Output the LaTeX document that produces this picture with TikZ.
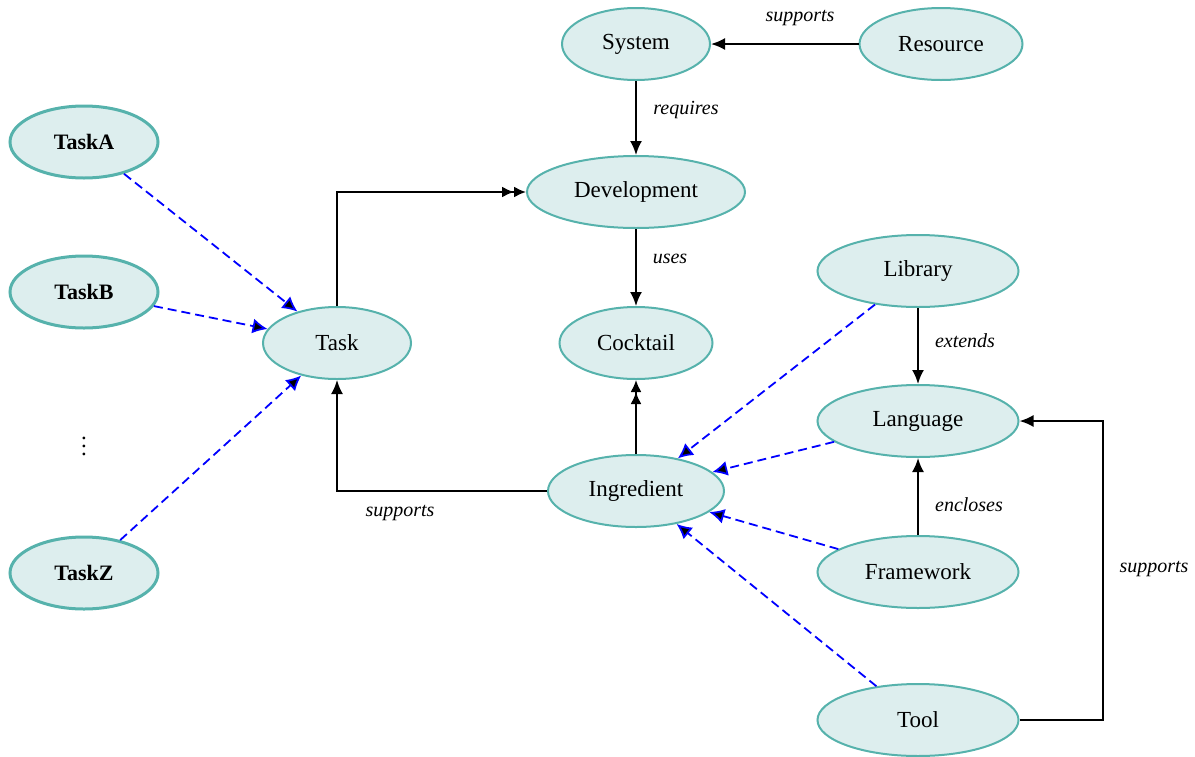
\documentclass[tikz,border=0pt]{standalone}
\usepackage{fontspec}
\setmainfont{Liberation Serif}
\usetikzlibrary{arrows.meta,shapes.geometric}
\definecolor{nodefill}{RGB}{221,238,238}
\definecolor{nodeline}{RGB}{86,178,172}
\tikzset{
  ent/.style={ellipse,draw=nodeline,fill=nodefill,line width=1pt,inner sep=0pt,
    minimum width=74pt,minimum height=36pt,font=\fontsize{11.5}{14}\selectfont},
  wide/.style={minimum width=100.5pt},
  taskbox/.style={ent,line width=1.5pt,font=\fontsize{11}{13}\selectfont\bfseries},
  rel/.style={draw=black,line width=1pt,-{Latex[length=7pt,width=6pt]}},
  relx/.style={draw=black,line width=1pt,-{Latex[length=6pt,width=5.5pt]Latex[length=6pt,width=5.5pt]}},
  dep/.style={draw=blue,line width=0.9pt,dash pattern=on 4.5pt off 2.5pt,-{Latex[length=7.5pt,width=7.5pt,fill=black]}},
  lbl/.style={font=\fontsize{10}{12}\selectfont\itshape}
}
\begin{document}
\begin{tikzpicture}[x=0.5pt,y=-0.5pt]
\useasboundingbox (0,0) rectangle (1195,756);
\node[ent] (sys) at (636,44) {System};
\node[ent,minimum width=81.5pt] (res) at (941,44) {Resource};
\node[ent,minimum width=109pt] (dev) at (636,192) {Development};
\node[ent,minimum width=76.5pt] (coc) at (636,343) {Cocktail};
\node[ent] (task) at (337,343) {Task};
\node[ent,minimum width=88pt] (ing) at (636,491) {Ingredient};
\node[ent,wide] (lib) at (918,271) {Library};
\node[ent,wide] (lang) at (918,421) {Language};
\node[ent,wide] (fw) at (918,572) {Framework};
\node[ent,wide] (tool) at (918,720) {Tool};
\node[taskbox] (ta) at (84,142) {TaskA};
\node[taskbox] (tb) at (84,292) {TaskB};
\node[taskbox] (tz) at (84,573) {TaskZ};
\node[font=\fontsize{11.5}{14}\selectfont] (dots) at (84,440) {$\vdots$};
\coordinate (xr) at (1103,0);

\draw[rel] (res) -- (sys);
\node[lbl] (l1) at (800,18) {supports};
\draw[rel] (sys) -- (dev);
\node[lbl] (l2) at (686,110) {requires};
\draw[rel] (dev) -- (coc);
\node[lbl] (l3) at (670,259) {uses};
\draw[rel] (lib) -- (lang);
\node[lbl] (l4) at (965,341) {extends};
\draw[rel] (fw) -- (lang);
\node[lbl] (l5) at (969,505) {encloses};
\draw[rel] (tool.east) -- (tool.east -| xr) |- (lang.east);
\node[lbl] (l6) at (1154,569) {supports};
\draw[relx] (task.north) |- (dev.west);
\draw[rel] (ing.west) -| (task.south);
\node[lbl] (l7) at (400,513) {supports};
\draw[relx] (ing) -- (coc);

\draw[dep] (ta) -- (task);
\draw[dep] (tb) -- (task);
\draw[dep] (tz) -- (task);
\draw[dep] (lib) -- (ing);
\draw[dep] (lang) -- (ing);
\draw[dep] (fw) -- (ing);
\draw[dep] (tool) -- (ing);
\end{tikzpicture}
\end{document}
